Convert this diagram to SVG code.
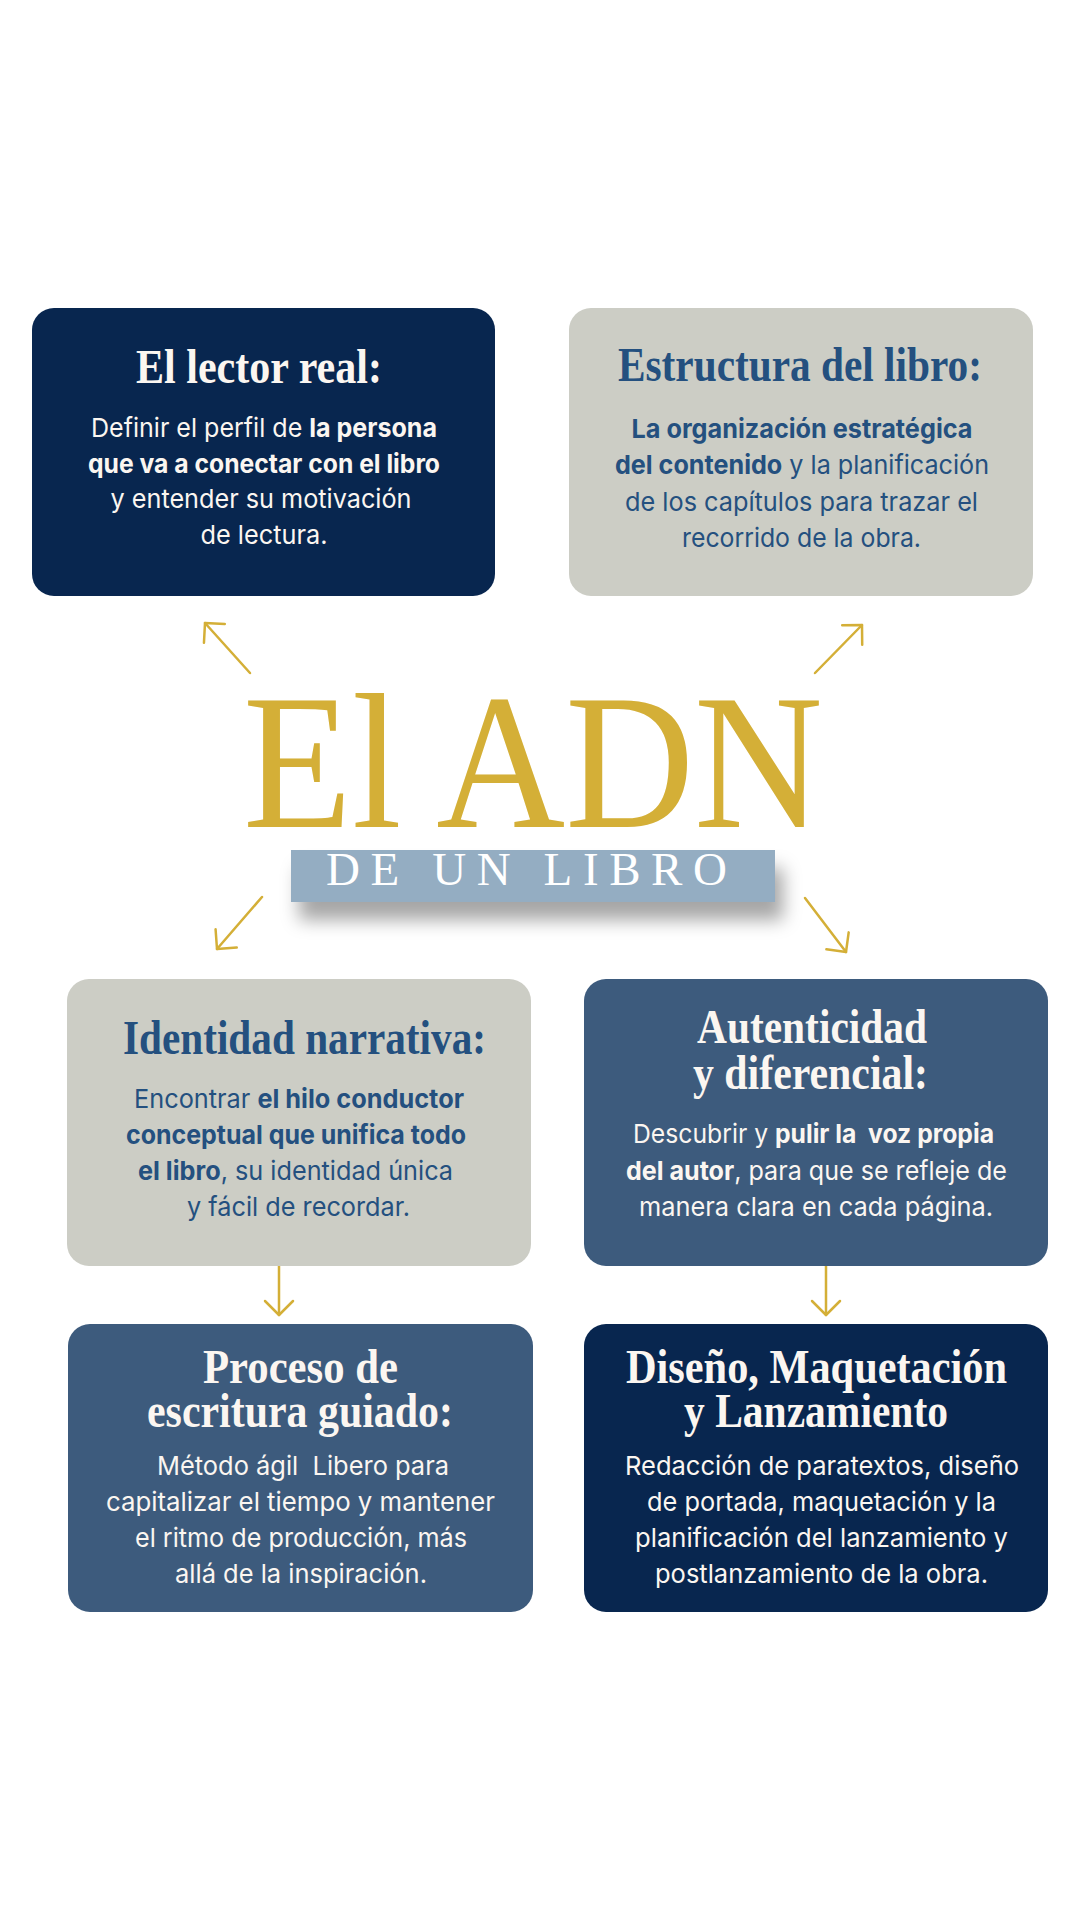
<svg xmlns="http://www.w3.org/2000/svg" width="1080" height="1920" viewBox="0 0 1080 1920">
<defs>
<style>
.box-navy{fill:#08264F}
.box-gray{fill:#CCCDC5}
.box-slate{fill:#3D5B7D}
.title{font-family:"Liberation Serif","Times New Roman",serif;font-weight:700;font-size:49px;text-anchor:middle}
.body{font-family:Inter,"Liberation Sans",sans-serif;font-size:26px;text-anchor:middle}
.b{font-weight:700}
.light{fill:#FBF6F1}
.blue{fill:#24507F}
.conn{stroke:#D4AF37;stroke-width:2.5;fill:none;stroke-linecap:round}
</style>
<marker id="ah" viewBox="-20 -20 40 40" refX="0" refY="0" markerWidth="40" markerHeight="40" markerUnits="userSpaceOnUse" orient="auto">
<path d="M-14,-14 L0,0 L-14,14" fill="none" stroke="#D4AF37" stroke-width="2.5" stroke-linecap="round" stroke-linejoin="round"/>
</marker>
<filter id="shadow" x="-20%" y="-50%" width="150%" height="250%">
<feDropShadow dx="8" dy="18" stdDeviation="9" flood-color="#000" flood-opacity="0.35"/>
</filter>
</defs>
<rect width="1080" height="1920" fill="#FFFFFF"/>

<g id="title-center">
<text x="243" y="827" font-family="'Liberation Serif','Times New Roman',serif" font-size="192" fill="#D4AF37" textLength="580" lengthAdjust="spacingAndGlyphs">El ADN</text>
<rect x="291" y="850" width="484" height="52" fill="#94ADC2" filter="url(#shadow)"/>
<text x="326" y="885" font-family="'Liberation Serif','Times New Roman',serif" font-size="47" fill="#FFFFFF" textLength="401" lengthAdjust="spacing">DE UN LIBRO</text>
</g>

<g id="connectors">
<line class="conn" x1="250" y1="673" x2="205" y2="623" marker-end="url(#ah)"/>
<line class="conn" x1="815" y1="673" x2="862" y2="625" marker-end="url(#ah)"/>
<line class="conn" x1="262" y1="897" x2="217" y2="949" marker-end="url(#ah)"/>
<line class="conn" x1="805" y1="898" x2="846" y2="952" marker-end="url(#ah)"/>
<line class="conn" x1="279" y1="1266" x2="279" y2="1315" marker-end="url(#ah)"/>
<line class="conn" x1="826" y1="1266" x2="826" y2="1315" marker-end="url(#ah)"/>
</g>

<g id="node-lector">
<rect class="box-navy" x="32" y="308" width="463" height="288" rx="22"/>
<text class="title light" x="259" y="383" textLength="246" lengthAdjust="spacingAndGlyphs">El lector real:</text>
<text class="body light" x="264" y="437" textLength="346" lengthAdjust="spacingAndGlyphs">Definir el perfil de <tspan class="b">la persona</tspan></text>
<text class="body light b" x="264" y="473" textLength="352" lengthAdjust="spacingAndGlyphs">que va a conectar con el libro</text>
<text class="body light" x="261" y="508" textLength="301" lengthAdjust="spacingAndGlyphs">y entender su motivación</text>
<text class="body light" x="264" y="544" textLength="127" lengthAdjust="spacingAndGlyphs">de lectura.</text>
</g>

<g id="node-estructura">
<rect class="box-gray" x="569" y="308" width="464" height="288" rx="22"/>
<text class="title blue" x="800" y="381" textLength="364" lengthAdjust="spacingAndGlyphs">Estructura del libro:</text>
<text class="body blue b" x="802" y="438" textLength="341" lengthAdjust="spacingAndGlyphs">La organización estratégica</text>
<text class="body blue" x="802" y="474" textLength="374" lengthAdjust="spacingAndGlyphs"><tspan class="b">del contenido</tspan> y la planificación</text>
<text class="body blue" x="801.5" y="511" textLength="353" lengthAdjust="spacingAndGlyphs">de los capítulos para trazar el</text>
<text class="body blue" x="801.5" y="547" textLength="239" lengthAdjust="spacingAndGlyphs">recorrido de la obra.</text>
</g>

<g id="node-identidad">
<rect class="box-gray" x="67" y="979" width="464" height="287" rx="22"/>
<text class="title blue" x="304.5" y="1054" textLength="363" lengthAdjust="spacingAndGlyphs">Identidad narrativa:</text>
<text class="body blue" x="299" y="1108" textLength="330" lengthAdjust="spacingAndGlyphs">Encontrar <tspan class="b">el hilo conductor</tspan></text>
<text class="body blue b" x="296" y="1144" textLength="340" lengthAdjust="spacingAndGlyphs">conceptual que unifica todo</text>
<text class="body blue" x="295.5" y="1180" textLength="315" lengthAdjust="spacingAndGlyphs"><tspan class="b">el libro</tspan>, su identidad única</text>
<text class="body blue" x="298.5" y="1216" textLength="223" lengthAdjust="spacingAndGlyphs">y fácil de recordar.</text>
</g>

<g id="node-autenticidad">
<rect class="box-slate" x="584" y="979" width="464" height="287" rx="22"/>
<text class="title light" x="812" y="1043" textLength="230" lengthAdjust="spacingAndGlyphs">Autenticidad</text>
<text class="title light" x="810.5" y="1089" textLength="235" lengthAdjust="spacingAndGlyphs">y diferencial:</text>
<text class="body light" x="813.5" y="1143" textLength="361" lengthAdjust="spacingAndGlyphs" xml:space="preserve">Descubrir y <tspan class="b">pulir la  voz propia</tspan></text>
<text class="body light" x="816.5" y="1180" textLength="381" lengthAdjust="spacingAndGlyphs"><tspan class="b">del autor</tspan>, para que se refleje de</text>
<text class="body light" x="816" y="1216" textLength="354" lengthAdjust="spacingAndGlyphs">manera clara en cada página.</text>
</g>

<g id="node-proceso">
<rect class="box-slate" x="68" y="1324" width="465" height="288" rx="22"/>
<text class="title light" x="300.5" y="1383" textLength="195" lengthAdjust="spacingAndGlyphs">Proceso de</text>
<text class="title light" x="300" y="1427" textLength="306" lengthAdjust="spacingAndGlyphs">escritura guiado:</text>
<text class="body light" x="303" y="1475" textLength="292" lengthAdjust="spacingAndGlyphs" xml:space="preserve">Método ágil  Libero para</text>
<text class="body light" x="300.5" y="1511" textLength="389" lengthAdjust="spacingAndGlyphs">capitalizar el tiempo y mantener</text>
<text class="body light" x="301" y="1547" textLength="332" lengthAdjust="spacingAndGlyphs">el ritmo de producción, más</text>
<text class="body light" x="301" y="1583" textLength="252" lengthAdjust="spacingAndGlyphs">allá de la inspiración.</text>
</g>

<g id="node-diseno">
<rect class="box-navy" x="584" y="1324" width="464" height="288" rx="22"/>
<text class="title light" x="816.5" y="1383" textLength="381" lengthAdjust="spacingAndGlyphs">Diseño, Maquetación</text>
<text class="title light" x="816" y="1427" textLength="264" lengthAdjust="spacingAndGlyphs">y Lanzamiento</text>
<text class="body light" x="822" y="1475" textLength="394" lengthAdjust="spacingAndGlyphs">Redacción de paratextos, diseño</text>
<text class="body light" x="821.5" y="1511" textLength="349" lengthAdjust="spacingAndGlyphs">de portada, maquetación y la</text>
<text class="body light" x="821.5" y="1547" textLength="373" lengthAdjust="spacingAndGlyphs">planificación del lanzamiento y</text>
<text class="body light" x="821.5" y="1583" textLength="333" lengthAdjust="spacingAndGlyphs">postlanzamiento de la obra.</text>
</g>
</svg>
